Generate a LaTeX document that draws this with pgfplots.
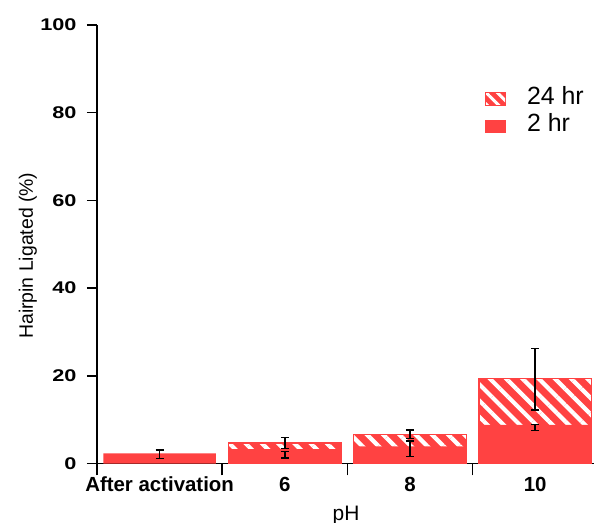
\documentclass[border=0pt]{standalone}
\usepackage{pgfplots}
\usepackage{pgfplotstable}
\pgfplotsset{compat=1.18}
\usepackage{fontspec}
\setmainfont{Liberation Sans}
\usetikzlibrary{patterns.meta}
\definecolor{barred}{RGB}{255,66,66}

\pgfplotstableread{
x y
1 4.7
2 6.66
3 19.4
}\tfour
\pgfplotstableread{
x y
0 2.3
1 3.3
2 3.9
3 8.8
}\ttwo
\pgfplotstableread{
x c e
0 2.13 0.95
1 4.72 1.25
1 2.00 0.69
2 6.69 0.95
2 3.34 1.79
3 19.24 7.03
3 8.21 0.73
}\terr

\begin{document}
\begin{tikzpicture}
\begin{axis}[
  at={(0,0)}, anchor=south west,
  scale only axis, width=497bp, height=438.5bp,
  xmin=-0.5, xmax=3.47, ymin=0, ymax=100,
  axis x line=bottom, axis y line=left,
  axis line style={-, line width=1.6bp, black},
  ytick={0,20,...,100},
  xtick={0,1,2,3},
  xticklabels={After activation,6,8,10},
  minor xtick={-0.5,0.5,1.5,2.5},
  tick align=outside,
  major tick length=10bp, minor tick length=12bp,
  major x tick style={draw=none},
  minor x tick style={draw=black, line width=1.6bp},
  major y tick style={draw=black, line width=1.6bp},
  /pgf/number format/assume math mode=true,
  yticklabel={\scalebox{1.28}[1]{\pgfmathprintnumber{\tick}}},
  yticklabel style={font=\fontsize{17}{17}\selectfont\bfseries, xshift=-7bp},
  xticklabel style={font=\fontsize{20.5}{20.5}\selectfont\bfseries},
  ylabel={Hairpin Ligated (\%)},
  xlabel={pH},
  every axis y label/.style={at={(axis description cs:-0.139,0.474)}, rotate=90, anchor=center, font=\fontsize{19.5}{19.5}\selectfont},
  every axis x label/.style={at={(axis description cs:0.501,-0.129)}, anchor=base, font=\fontsize{21}{21}\selectfont},
  legend style={at={(axis description cs:0.7807,0.859)}, anchor=north west, draw=none, fill=none,
    inner sep=0pt, outer sep=0pt,
    font=\fontsize{25}{25}\selectfont, row sep=6.8bp, nodes={inner sep=0pt}},
  legend cell align=left,
]
% 24 hr: solid red base
\addplot[ybar, bar width=0.9, bar shift=0pt, fill=barred, draw=none, forget plot]
  table[x=x,y=y]{\tfour};
% 24 hr: white hatching with red border
\addplot[ybar, bar width=0.9, bar shift=0pt, draw=barred, line width=1.5bp,
  pattern={Lines[angle=-45,distance=11.5bp,line width=4.2bp]}, pattern color=white,
  legend image code/.code={
    \fill[barred, draw=none] (0bp,-9.1bp) rectangle (21bp,4.2bp);
    \fill[pattern={Lines[angle=-45,distance=8bp,line width=3bp]}, pattern color=white, draw=none] (1bp,-8.1bp) rectangle (20bp,3.2bp);
    \path[draw=none, fill=none] (21bp,0bp) -- (42bp,0bp);}
] table[x=x,y=y]{\tfour};
\addlegendentry{24 hr}
\addplot[ybar, bar width=0.9, bar shift=0pt, fill=barred, draw=none,
  legend image code/.code={
    \fill[barred, draw=none] (0bp,-10.5bp) rectangle (21bp,3bp);
    \path[draw=none, fill=none] (21bp,0bp) -- (42bp,0bp);}
] table[x=x,y=y]{\ttwo};
\addlegendentry{2 hr}
\addplot[draw=none, mark=none, forget plot,
  error bars/.cd, y dir=both, y explicit,
  error bar style={draw=black, line width=1.5bp},
  error mark options={draw=black, rotate=90, mark size=4bp, line width=1.5bp}
] table[x=x, y=c, y error=e]{\terr};
\end{axis}
\pgfresetboundingbox
\path[use as bounding box] (-97bp,-59.5bp) rectangle (497bp,463.5bp);
\end{tikzpicture}
\end{document}
